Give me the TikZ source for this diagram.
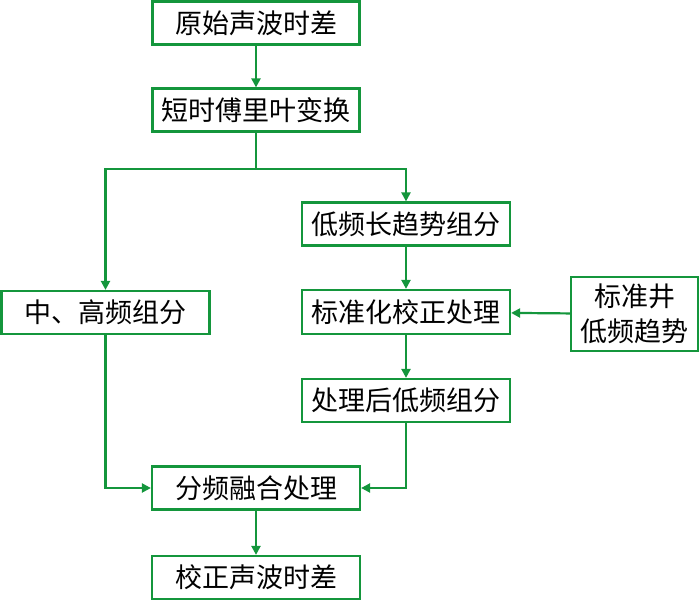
\documentclass[tikz,border=0pt]{standalone}
\usepackage{fontspec}
\newfontfamily\cjk{Noto Sans CJK SC}
\usetikzlibrary{arrows.meta}
\definecolor{lgreen}{RGB}{20,150,60}
\begin{document}
\begin{tikzpicture}[x=1pt,y=-1pt,
  box/.style={draw=lgreen,line width=2.2pt,fill=white,inner sep=0pt,text=black,
    font=\cjk\fontsize{27}{35}\selectfont,minimum height=43pt,minimum width=207pt},
  conn/.style={draw=lgreen,line width=2.2pt,-{Triangle[length=9pt,width=9pt]}}]
\useasboundingbox (0,0) rectangle (700,601);
\node[box] (a) at (256,23) {原始声波时差};
\node[box] (b) at (256,110) {短时傅里叶变换};
\node[box,minimum width=208pt] (low) at (406,224) {低频长趋势组分};
\node[box,minimum width=208pt] (mid) at (105.5,312.5) {中、高频组分};
\node[box,minimum width=208pt,minimum height=44pt] (std) at (406,312) {标准化校正处理};
\node[box,minimum width=127pt,minimum height=74pt,align=center] (well) at (634.5,314) {标准井\\低频趋势};
\node[box,minimum width=208pt] (post) at (406,400.5) {处理后低频组分};
\node[box,minimum width=208pt] (fus) at (256,488) {分频融合处理};
\node[box,minimum width=208pt] (fin) at (256,577.5) {校正声波时差};
\coordinate (br) at (256,169);
\draw[conn] (a) -- (b);
\draw[conn] (b.south) -- (br) -| (low.north);
\draw[conn] (br) -| (mid.north);
\draw[conn] (low) -- (std);
\draw[conn] (well) -- (std);
\draw[conn] (std) -- (post);
\draw[conn] (mid.south) |- (fus.west);
\draw[conn] (post.south) |- (fus.east);
\draw[conn] (fus) -- (fin);
\end{tikzpicture}
\end{document}
